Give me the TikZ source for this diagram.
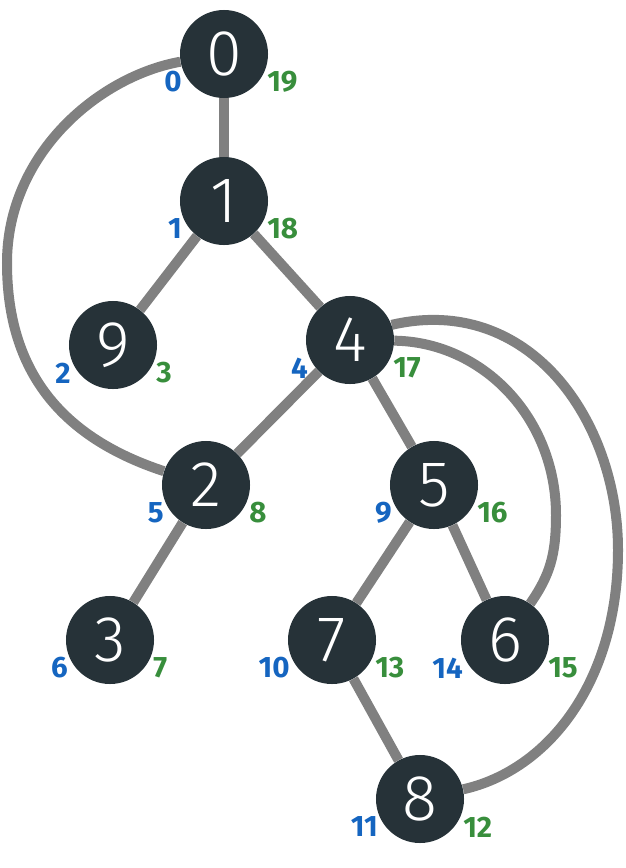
\documentclass[tikz,border=0pt]{standalone}
\usepackage{fontspec}
\setmainfont{Fira Sans}
\newfontfamily\vertexfont{Fira Sans Light}
\usetikzlibrary{backgrounds}
\definecolor{vertexfill}{HTML}{263238}
\definecolor{edgegray}{HTML}{808080}
\definecolor{preblue}{HTML}{1565C0}
\definecolor{postgreen}{HTML}{388E3C}
\begin{document}
\begin{tikzpicture}[x=0.025cm, y=-0.025cm,
    vertex/.style={circle, fill=vertexfill, minimum size=2.2cm, inner sep=0pt,
      text=white, font=\vertexfont\fontsize{46}{46}\selectfont},
    edge/.style={draw=edgegray, line width=0.25cm},
    pre/.style={inner sep=0pt, anchor=east, text=preblue,
      font=\bfseries\fontsize{21}{21}\selectfont},
    post/.style={inner sep=0pt, anchor=west, text=postgreen,
      font=\bfseries\fontsize{21}{21}\selectfont}]
  \useasboundingbox (0,0) rectangle (625,868);

  % Vertices with pre and post times
  \foreach \v/\x/\y/\a/\b in {0/224/54/0/19, 1/224/201/1/18, 9/113/345/2/3,
      4/350/340/4/17, 2/206/485/5/8, 3/110/640/6/7, 5/434/485/9/16,
      7/332/640/10/13, 8/420/799/11/12, 6/505/640/14/15} {
    \node[vertex] (n\v) at (\x,\y) {\v};
    \node[pre] (pre\v) at (\x-42,\y+28) {\a};
    \node[post] (post\v) at (\x+43,\y+28) {\b};
  }

  % Points on the long arcs
  \coordinate (arcL) at (7,263);
  \coordinate (arcR) at (556,515);
  \coordinate (arcO) at (618,550);

  \begin{scope}[on background layer]
    % Tree edges
    \draw[edge] (n0) -- (n1);
    \draw[edge] (n1) -- (n9);
    \draw[edge] (n1) -- (n4);
    \draw[edge] (n4) -- (n2);
    \draw[edge] (n2) -- (n3);
    \draw[edge] (n4) -- (n5);
    \draw[edge] (n5) -- (n7);
    \draw[edge] (n7) -- (n8);
    \draw[edge] (n5) -- (n6);

    % Back edges
    \draw[edge] (n0) .. controls (100,76) and (7,153) .. (arcL)
      .. controls (7,373) and (63,438) .. (n2);
    \draw[edge] (n4) .. controls (483,342) and (556,418) .. (arcR)
      .. controls (556,555) and (550,575) .. (n6);
    \draw[edge] (n4.20) .. controls (529,293) and (618,420) .. (arcO)
      .. controls (618,681) and (549,770) .. (n8);
  \end{scope}
\end{tikzpicture}
\end{document}
